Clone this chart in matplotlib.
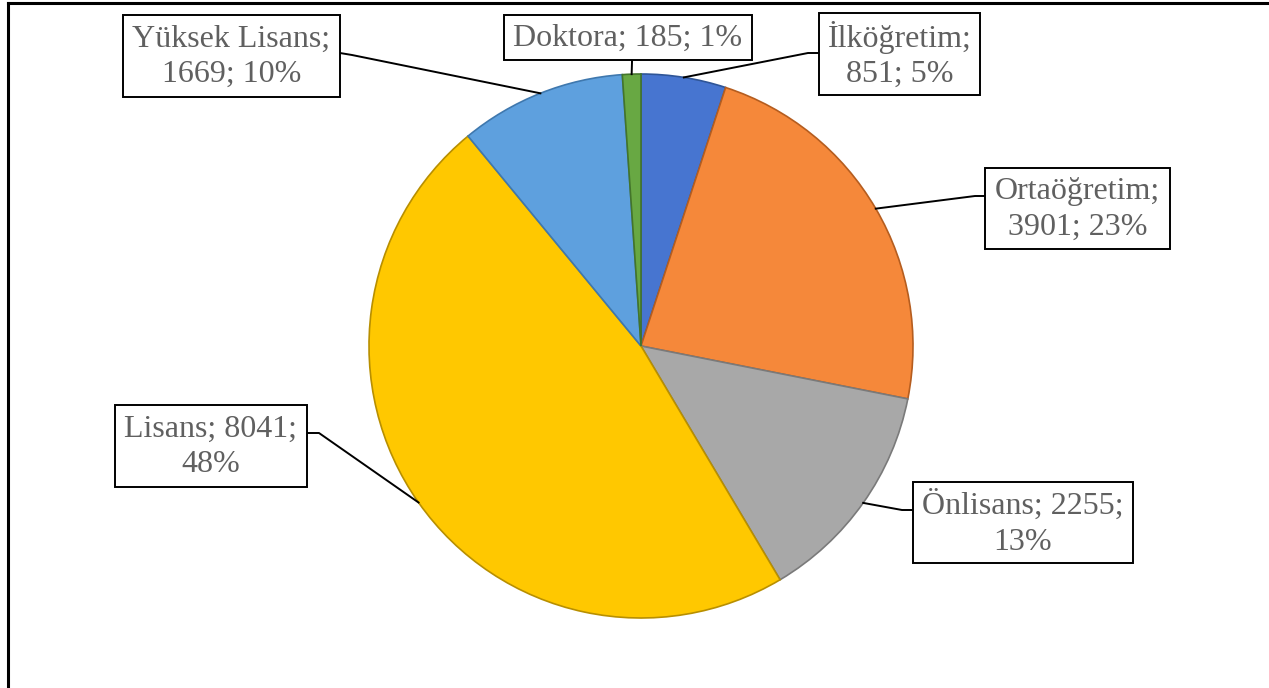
import numpy as np
import matplotlib
matplotlib.use('Agg')
import matplotlib.pyplot as plt
from matplotlib.patches import Rectangle

plt.rcParams['font.family'] = ['Liberation Serif', 'DejaVu Serif']

# data ################################
categories = ['İlköğretim', 'Ortaöğretim', 'Önlisans', 'Lisans', 'Yüksek Lisans', 'Doktora']
counts = [851, 3901, 2255, 8041, 1669, 185]
percents = ['5%', '23%', '13%', '48%', '10%', '1%']
colors = ['#4775D0', '#F5883A', '#A8A8A8', '#FFC800', '#5EA0DE', '#68A843']
edges = ['#2F5597', '#B55D1F', '#7A7A7A', '#B88F00', '#3F78AE', '#43752A']

# label text, line break where the original breaks
label_text = [
    '{};\n{}; {}'.format(categories[0], counts[0], percents[0]),
    '{};\n{}; {}'.format(categories[1], counts[1], percents[1]),
    '{}; {};\n{}'.format(categories[2], counts[2], percents[2]),
    '{}; {};\n{}'.format(categories[3], counts[3], percents[3]),
    '{};\n{}; {}'.format(categories[4], counts[4], percents[4]),
    '{}; {}; {}'.format(categories[5], counts[5], percents[5]),
]

W, H = 1269, 688
# label boxes in pixel coords (left, top, width, height) and leader attach point
boxes = [(819, 13, 161, 82), (985, 168, 185, 81), (913, 482, 220, 81),
         (115, 405, 192, 82), (123, 15, 217, 82), (504, 15, 248, 45)]
attach = [(819, 53), (985, 196), (913, 510), (307, 433), (340, 53), (632, 60)]
elbow = [(808, 53), (975, 196), (902, 510), (319, 433), (352, 55), (632, 62)]

cx, cy, r = 641, H - 346, 272

fig = plt.figure(figsize=(W / 100, H / 100), dpi=100, facecolor='w')
ax = fig.add_axes([0, 0, 1, 1])
wedges, _ = ax.pie(counts, colors=colors, startangle=90, counterclock=False,
                   center=(cx, cy), radius=r,
                   wedgeprops=dict(linewidth=1.2))
for w, ec in zip(wedges, edges):
    w.set_edgecolor(ec)
ax.set_xlim(0, W)
ax.set_ylim(0, H)
ax.set_aspect('equal')
ax.axis('off')

# label boxes + leader lines
for i, w in enumerate(wedges):
    mid = np.deg2rad((w.theta1 + w.theta2) / 2)
    px, py = cx + r * np.cos(mid), cy + r * np.sin(mid)
    ax.plot([attach[i][0], elbow[i][0], px],
            [H - attach[i][1], H - elbow[i][1], py],
            color='black', lw=1.4, zorder=3)
    bx, by, bw, bh = boxes[i]
    ax.add_patch(Rectangle((bx, H - by - bh), bw, bh, facecolor='white',
                           edgecolor='black', lw=1.4, zorder=4))
    ax.text(bx + bw / 2, H - by - bh / 2 - 1, label_text[i], ha='center',
            va='center', fontsize=23, color='#606060', linespacing=1.3,
            zorder=5)

# outer frame (top + left visible)
ax.plot([8, W], [H - 3, H - 3], color='black', lw=2.2, clip_on=False)
ax.plot([8, 8], [H - 3, 0], color='black', lw=2.2, clip_on=False)

plt.savefig('out.png', dpi=100, facecolor='w')
